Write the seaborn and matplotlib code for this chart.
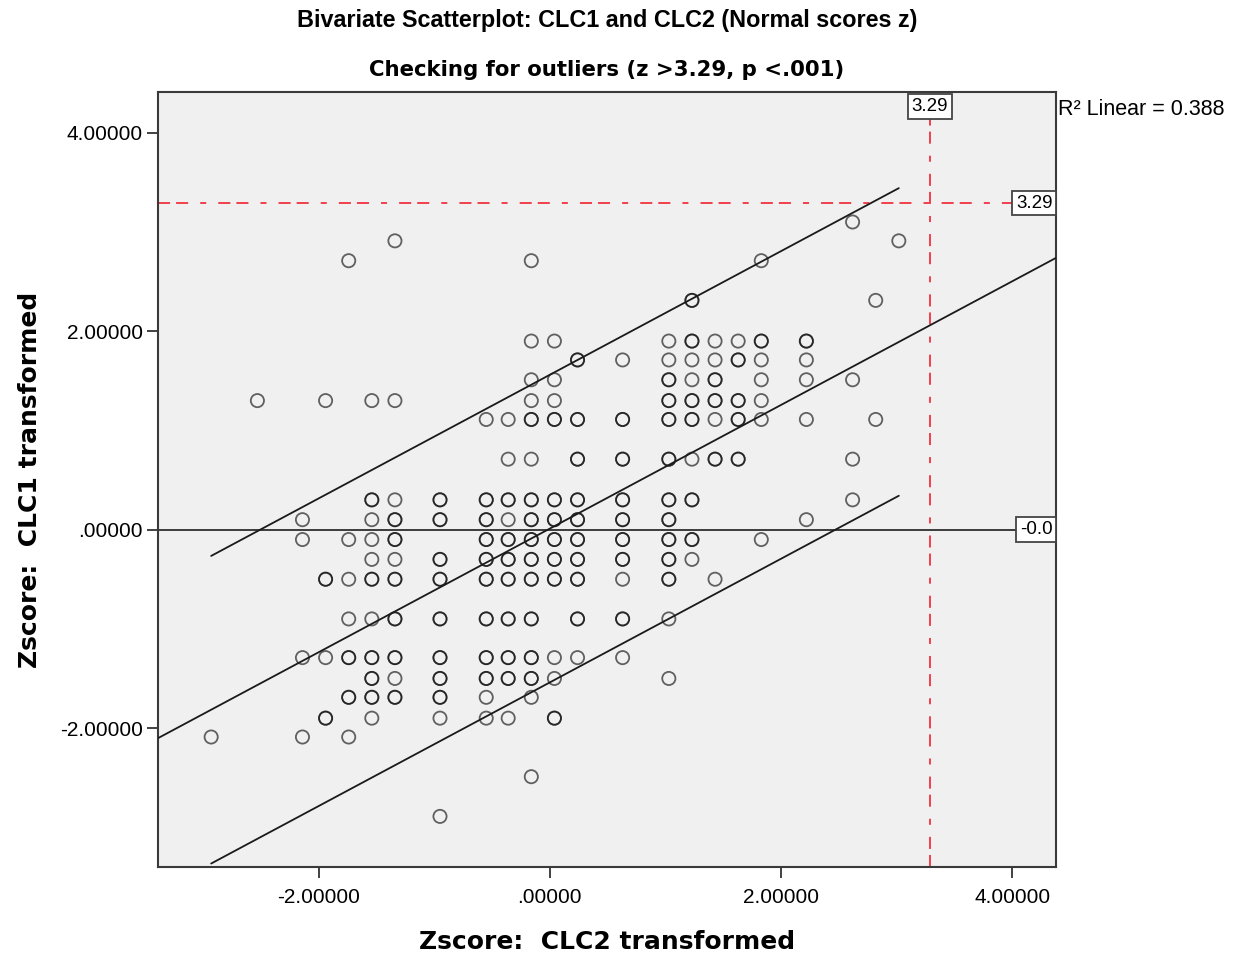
import numpy as np
import pandas as pd
import matplotlib
matplotlib.use("Agg")
import matplotlib.pyplot as plt
import matplotlib.transforms as mtransforms
import seaborn as sns

# ------------------------------------------------------------------
# Data (normal-score z values)
# ------------------------------------------------------------------
clc2_levels = [-2.93, -2.53, -2.14, -1.94, -1.74, -1.54, -1.34, -0.95, -0.55, -0.36,
               -0.16, 0.04, 0.24, 0.63, 1.03, 1.23, 1.43, 1.63, 1.83, 2.22,
               2.62, 2.82, 3.02]

clc1_values = [
    [-2.09],
    [1.30],
    [0.10, -0.10, -1.29, -2.09],
    [1.30, -0.50, -1.29, -1.90],
    [2.71, -0.10, -0.50, -0.90, -1.29, -1.69, -2.09],
    [1.30, 0.30, 0.10, -0.10, -0.30, -0.50, -0.90, -1.29, -1.50, -1.69, -1.90],
    [2.91, 1.30, 0.30, 0.10, -0.10, -0.30, -0.50, -0.90, -1.29, -1.50, -1.69],
    [0.30, 0.10, -0.30, -0.50, -0.90, -1.29, -1.50, -1.69, -1.90, -2.89],
    [1.11, 0.30, 0.10, -0.10, -0.30, -0.50, -0.90, -1.29, -1.50, -1.69, -1.90],
    [1.11, 0.71, 0.30, 0.10, -0.10, -0.30, -0.50, -0.90, -1.29, -1.50, -1.90],
    [2.71, 1.90, 1.51, 1.30, 1.11, 0.71, 0.30, 0.10, -0.10, -0.30, -0.50, -0.90,
     -1.29, -1.50, -1.69, -2.49],
    [1.90, 1.51, 1.30, 1.11, 0.30, 0.10, -0.10, -0.30, -0.50, -1.29, -1.50, -1.90],
    [1.71, 1.11, 0.71, 0.30, 0.10, -0.10, -0.30, -0.50, -0.90, -1.29],
    [1.71, 1.11, 0.71, 0.30, 0.10, -0.10, -0.30, -0.50, -0.90, -1.29],
    [1.90, 1.71, 1.51, 1.30, 1.11, 0.71, 0.30, 0.10, -0.10, -0.30, -0.50, -0.90, -1.50],
    [2.31, 1.90, 1.71, 1.51, 1.30, 1.11, 0.71, 0.30, -0.10, -0.30],
    [1.90, 1.71, 1.51, 1.30, 1.11, 0.71, -0.50],
    [1.90, 1.71, 1.30, 1.11, 0.71],
    [2.71, 1.90, 1.71, 1.51, 1.30, 1.11, -0.10],
    [1.90, 1.71, 1.51, 1.11, 0.10],
    [3.10, 1.51, 0.71, 0.30],
    [2.31, 1.11],
    [2.91],
]

# number of cases stacked on each point (darker circles = overlaps)
case_counts = [
    [1],
    [1],
    [1, 1, 1, 1],
    [1, 2, 1, 2],
    [1, 1, 1, 1, 2, 2, 1],
    [1, 2, 1, 1, 1, 2, 1, 2, 2, 2, 1],
    [1, 1, 1, 2, 2, 1, 2, 2, 2, 1, 2],
    [2, 2, 2, 2, 2, 2, 2, 2, 1, 1],
    [1, 2, 2, 2, 2, 2, 2, 2, 2, 1, 1],
    [1, 1, 2, 1, 2, 2, 2, 2, 2, 2, 1],
    [1, 1, 1, 1, 2, 1, 2, 2, 2, 2, 2, 2, 2, 2, 1, 1],
    [1, 1, 1, 2, 2, 2, 2, 2, 2, 1, 1, 2],
    [2, 2, 2, 2, 2, 2, 2, 2, 2, 1],
    [1, 2, 2, 2, 2, 2, 2, 1, 2, 1],
    [1, 1, 2, 2, 2, 2, 2, 2, 2, 2, 2, 1, 1],
    [2, 2, 1, 1, 2, 2, 1, 2, 2, 1],
    [1, 1, 2, 2, 1, 2, 1],
    [1, 2, 2, 2, 2],
    [1, 2, 1, 1, 1, 1, 1],
    [2, 1, 1, 1, 1],
    [1, 1, 1, 1],
    [1, 1],
    [1],
]

r_squared = 0.388
fit_intercept = 0.01
pi_halfwidth = 1.55      # 95% individual prediction interval
cutoff_z = 3.29
zero_label = "-0.0"
tick_values = [-2, 0, 2, 4]

rows = []
for x, ys, ns in zip(clc2_levels, clc1_values, case_counts):
    for y, n in zip(ys, ns):
        rows += [(x, y)] * n
df = pd.DataFrame(rows, columns=["clc2_z", "clc1_z"])

# ------------------------------------------------------------------
# Plot
# ------------------------------------------------------------------
sns.set_style("ticks")
plt.rcParams["font.family"] = ["Liberation Sans", "DejaVu Sans"]
plt.rcParams["text.color"] = "black"

fig = plt.figure(figsize=(12.4, 9.56), dpi=100)
ax = fig.add_axes([158 / 1240, 1 - 867 / 956, 898 / 1240, 775 / 956])
ax.set_facecolor("#f0f0f0")
xlim = (-3.39, 4.38)
ylim = (-3.40, 4.41)

# reference line at mean and outlier cut-offs
ax.axhline(0, color="#3c3c3c", lw=1.4, zorder=2)
red = "#f0404c"
dash = (0, (6.2, 3.1, 6.2, 6.2, 3.1, 6.2))
ax.axhline(cutoff_z, color=red, lw=1.4, ls=dash, zorder=2)
ax.axvline(cutoff_z, color=red, lw=1.4, ls=dash, zorder=2)

sns.scatterplot(data=df, x="clc2_z", y="clc1_z", ax=ax, s=90,
                facecolor="none", edgecolor="black", linewidth=1.3,
                alpha=0.6, zorder=3)

# linear fit + prediction interval
slope = np.sqrt(r_squared)
xx = np.linspace(xlim[0], xlim[1], 50)
ax.plot(xx, fit_intercept + slope * xx, color="#1a1a1a", lw=1.3, zorder=4)
xr = np.linspace(df["clc2_z"].min(), df["clc2_z"].max(), 50)
for sgn in (1, -1):
    ax.plot(xr, fit_intercept + slope * xr + sgn * pi_halfwidth,
            color="#1a1a1a", lw=1.3, zorder=4)

ax.set_xlim(*xlim)
ax.set_ylim(*ylim)
ax.set_xticks(tick_values)
ax.set_yticks(tick_values)


def fmt(v, _):
    s = f"{v:.5f}"
    return s[1:] if s.startswith("0.") else s


ax.xaxis.set_major_formatter(plt.FuncFormatter(fmt))
ax.yaxis.set_major_formatter(plt.FuncFormatter(fmt))
ax.tick_params(direction="out", length=8, width=1.3, color="#333333",
               labelsize=15, labelcolor="black")
ax.tick_params(axis="x", pad=7)
ax.tick_params(axis="y", pad=3)
for sp in ax.spines.values():
    sp.set_color("#3a3a3a")
    sp.set_linewidth(1.5)

lab_font = dict(family="DejaVu Sans", weight="bold", size=18, color="black")
ax.set_xlabel("Zscore:  CLC2 transformed", **lab_font)
ax.set_ylabel("Zscore:  CLC1 transformed", **lab_font)
ax.xaxis.set_label_coords(0.5, -0.081)
ax.yaxis.set_label_coords(-0.129, 0.5)

# boxed reference labels
box = dict(boxstyle="square,pad=0.2", fc="white", ec="#444444", lw=1.3)
tr_xdata = mtransforms.blended_transform_factory(ax.transData, ax.transAxes)
tr_ydata = mtransforms.blended_transform_factory(ax.transAxes, ax.transData)
ax.text(cutoff_z, 0.981, f"{cutoff_z:.2f}", transform=tr_xdata, ha="center",
        va="center", fontsize=13.5, bbox=box, zorder=6)
ax.text(0.976, cutoff_z, f"{cutoff_z:.2f}", transform=tr_ydata, ha="center",
        va="center", fontsize=13.5, bbox=box, zorder=6)
ax.text(0.978, 0, zero_label, transform=tr_ydata, ha="center",
        va="center", fontsize=13.5, bbox=box, zorder=6)
ax.text(1.002, 0.977, f"R² Linear = {r_squared:.3f}", transform=ax.transAxes,
        ha="left", va="center", fontsize=15.5)

fig.text(607 / 1240, 1 - 20 / 956,
         "Bivariate Scatterplot: CLC1 and CLC2 (Normal scores z)",
         ha="center", va="center", fontsize=16.8, weight="bold",
         family="Liberation Sans")
fig.text(607 / 1240, 1 - 70 / 956, "Checking for outliers (z >3.29, p <.001)",
         ha="center", va="center", fontsize=15.3, weight="bold",
         family="DejaVu Sans")

fig.savefig("out.png", dpi=100)
plt.close(fig)
